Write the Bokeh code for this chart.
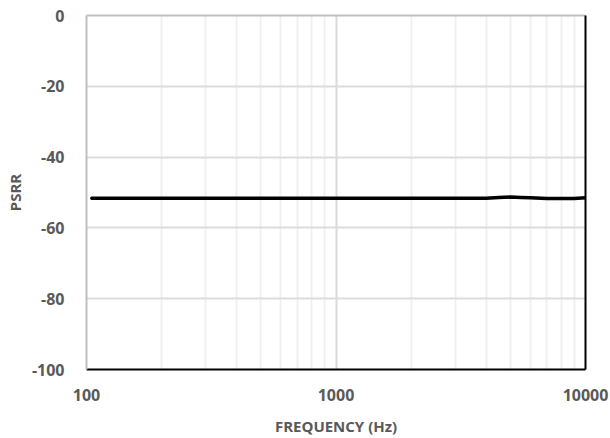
from bokeh.plotting import figure
from bokeh.models import FixedTicker, LinearAxis, NumeralTickFormatter
from bokeh.embed import file_html
from bokeh.resources import INLINE

freq_hz = [105, 150, 200, 300, 500, 700, 1000, 1500, 2000, 3000, 4000, 4500, 5000, 5500, 6000, 7000, 8000, 9000, 10000]
psrr_db = [-51.6, -51.6, -51.6, -51.6, -51.6, -51.6, -51.6, -51.6, -51.6, -51.6, -51.6, -51.4, -51.3, -51.4, -51.5, -51.7, -51.7, -51.7, -51.5]

x_major = [100, 1000, 10000]
x_minor = [200, 300, 400, 500, 600, 700, 800, 900, 2000, 3000, 4000, 5000, 6000, 7000, 8000, 9000]
y_ticks = [-100, -80, -60, -40, -20, 0]
y_tick_labels = ["-100", "-80", "-60", "-40", "-20", "0"]

FONT = "Open Sans"
LABEL_COLOR = "#595959"

p = figure(width=610, height=438, x_axis_type="log", x_range=(100, 10000), y_range=(-100, 0),
           output_backend="svg", toolbar_location=None,
           min_border_left=86, min_border_top=15, min_border_right=25, min_border_bottom=69)
p.outline_line_color = None
p.background_fill_color = "white"
p.border_fill_color = "white"

p.line(freq_hz, psrr_db, line_color="black", line_width=3.5, line_cap="round")

xt = FixedTicker(ticks=x_major, minor_ticks=x_minor)
yt = FixedTicker(ticks=y_ticks)

xa = p.xaxis[0]
xa.ticker = xt
xa.formatter = NumeralTickFormatter(format="0")
xa.axis_line_color = "black"
xa.axis_line_width = 2
xa.major_tick_line_color = None
xa.minor_tick_line_color = None
xa.major_label_standoff = 13
xa.major_label_text_font = FONT
xa.major_label_text_font_style = "bold"
xa.major_label_text_font_size = "16px"
xa.major_label_text_color = LABEL_COLOR
xa.axis_label = "FREQUENCY (Hz)"
xa.axis_label_text_font = FONT
xa.axis_label_text_font_style = "bold"
xa.axis_label_text_font_size = "15px"
xa.axis_label_text_color = LABEL_COLOR
xa.axis_label_standoff = 12

ya = p.yaxis[0]
ya.ticker = yt
ya.major_label_overrides = {t: s for t, s in zip(y_ticks, y_tick_labels)}
ya.axis_line_color = "#bfbfbf"
ya.axis_line_width = 2
ya.major_tick_line_color = None
ya.minor_tick_line_color = None
ya.major_label_standoff = 16
ya.major_label_text_font = FONT
ya.major_label_text_font_style = "bold"
ya.major_label_text_font_size = "16px"
ya.major_label_text_color = LABEL_COLOR
ya.axis_label = "PSRR"
ya.axis_label_text_font = FONT
ya.axis_label_text_font_style = "bold"
ya.axis_label_text_font_size = "15px"
ya.axis_label_text_color = LABEL_COLOR
ya.axis_label_standoff = 4

p.xgrid.ticker = xt
p.xgrid.grid_line_color = "#d9d9d9"
p.xgrid.grid_line_width = 2
p.xgrid.minor_grid_line_color = "#f0f0f0"
p.xgrid.minor_grid_line_width = 2
p.ygrid.ticker = yt
p.ygrid.grid_line_color = "#dcdcdc"
p.ygrid.grid_line_width = 2

top = LinearAxis(ticker=FixedTicker(ticks=[]), axis_line_color="#bfbfbf", axis_line_width=2,
                 major_tick_line_color=None, minor_tick_line_color=None)
right = LinearAxis(ticker=FixedTicker(ticks=[]), axis_line_color="black", axis_line_width=2,
                   major_tick_line_color=None, minor_tick_line_color=None)
p.add_layout(top, "above")
p.add_layout(right, "right")

open("out.html", "w").write(file_html(p, INLINE))
